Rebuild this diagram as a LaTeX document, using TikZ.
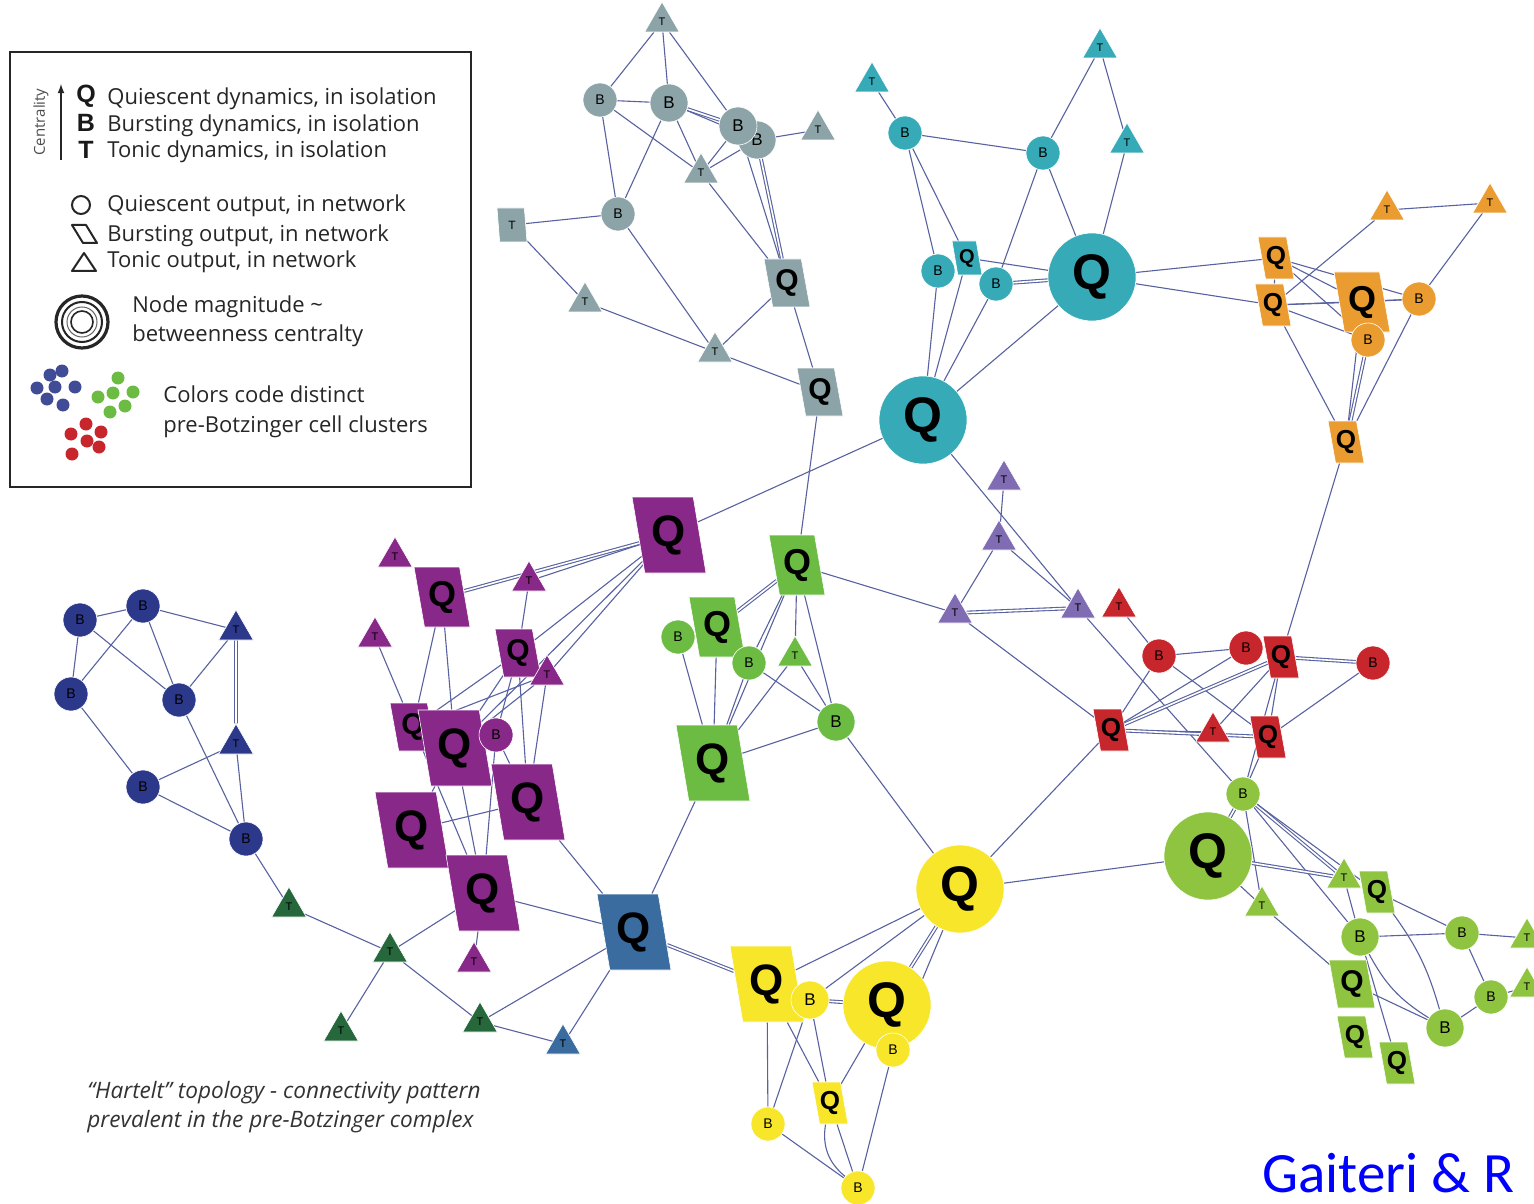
\documentclass[tikz,border=0pt]{standalone}
\usepackage{fontspec}
\setmainfont{Open Sans}
\newfontfamily\letterfont{Liberation Sans}
\newfontfamily\credfont{Carlito}
\usetikzlibrary
  {
    shapes.geometric, % triangles and slanted boxes
    backgrounds,      % connectors behind the nodes
    arrows,           % legend arrow
  }
\newcommand\fsz[1]{\fontsize{#1}{#1}\selectfont}

\definecolor{gtcol}{RGB}{140,163,168}
\definecolor{tlcol}{RGB}{55,170,184}
\definecolor{orcol}{RGB}{234,156,48}
\definecolor{pucol}{RGB}{136,40,136}
\definecolor{grcol}{RGB}{108,188,68}
\definecolor{lvcol}{RGB}{128,108,178}
\definecolor{rdcol}{RGB}{198,38,44}
\definecolor{ylcol}{RGB}{248,230,42}
\definecolor{lmcol}{RGB}{142,196,64}
\definecolor{nvcol}{RGB}{44,56,138}
\definecolor{dgcol}{RGB}{38,104,60}
\definecolor{sbcol}{RGB}{58,108,160}
\definecolor{edgecol}{RGB}{88,98,160}
\definecolor{credblue}{RGB}{0,0,255}

\tikzset{
  net/.style={inner sep=0pt, draw=white, line width=0.3pt, text=black},
  cB/.style={net, circle, minimum size=17pt, font=\letterfont\fsz{7}},
  cBB/.style={net, circle, minimum size=19pt, font=\letterfont\fsz{8.5}},
  cQ/.style={net, circle, minimum size=44pt, font=\letterfont\bfseries\fsz{25}},
  tri/.style={net, regular polygon, regular polygon sides=3, minimum size=20pt, font=\letterfont\fsz{5.5}},
  para/.style={net, trapezium, trapezium left angle=108, trapezium right angle=72, trapezium stretches body},
  pL/.style={para, minimum width=37pt, minimum height=38pt, font=\letterfont\bfseries\fsz{22}},
  pM/.style={para, minimum width=28pt, minimum height=30pt, font=\letterfont\bfseries\fsz{18}},
  pSM/.style={para, minimum width=23pt, minimum height=24pt, font=\letterfont\bfseries\fsz{15}},
  pS/.style={para, minimum width=18pt, minimum height=21pt, font=\letterfont\bfseries\fsz{13}},
  pXS/.style={para, minimum width=15pt, minimum height=17pt, font=\letterfont\bfseries\fsz{10}},
  conn/.style={draw=edgecol, line width=0.55pt},
  multi/.style={double=white, double distance=0.8pt},
  fGt/.style={fill=gtcol}, fTl/.style={fill=tlcol}, fOr/.style={fill=orcol},
  fPu/.style={fill=pucol}, fGr/.style={fill=grcol}, fLv/.style={fill=lvcol},
  fRd/.style={fill=rdcol}, fYl/.style={fill=ylcol}, fLm/.style={fill=lmcol},
  fNv/.style={fill=nvcol}, fDg/.style={fill=dgcol}, fSb/.style={fill=sbcol},
  legtxt/.style={font=\fsz{11}, text=black!85, anchor=base west, inner sep=0pt},
  legkey/.style={font=\letterfont\bfseries\fsz{12.5}, text=black!90, inner sep=0pt},
  captxt/.style={font=\itshape\fsz{11.3}, text=black!80, anchor=base west, inner sep=0pt},
}

\begin{document}
\begin{tikzpicture}[x=0.5pt, y=-0.5pt]
  \useasboundingbox (0,0) rectangle (1534,1203);

  % legend box
  \draw[line width=1pt, black!85] (10,52) rectangle (471,487);
  \draw[-latex, line width=0.6pt, black!85] (61,160) -- (61,84);
  \node[rotate=90, font=\fsz{7.5}, text=black!70] (centr) at (41,122) {Centrality};
  \node[legkey] (keyQ) at (86,96) {Q};
  \node[legkey] (keyB) at (86,123) {B};
  \node[legkey] (keyT) at (86,150) {T};
  \node[legtxt] (legQ) at (107,105) {Quiescent dynamics, in isolation};
  \node[legtxt] (legB) at (107,132) {Bursting dynamics, in isolation};
  \node[legtxt] (legT) at (107,158) {Tonic dynamics, in isolation};
  \draw[line width=1pt, black!85] (81,205) circle (9);
  \draw[line width=1pt, black!85, line join=round] (72,225) -- (86,225) -- (97,243) -- (83,243) -- cycle;
  \draw[line width=1pt, black!85, line join=round] (72,271) -- (96,271) -- (84,253) -- cycle;
  \node[legtxt] (legO) at (107,212) {Quiescent output, in network};
  \node[legtxt] (legP) at (107,242) {Bursting output, in network};
  \node[legtxt] (legA) at (107,268) {Tonic output, in network};
  \draw[line width=1.6pt, black!85] (82,322) circle (26);
  \draw[line width=1pt, black!85] (82,322) circle (20);
  \draw[line width=0.5pt, black!60] (82,322) circle (15);
  \draw[line width=0.8pt, black!85] (82,322) circle (11);
  \node[legtxt] (legM1) at (132,313) {Node magnitude \textasciitilde};
  \node[legtxt] (legM2) at (132,342) {betweenness centralty};
  \foreach \p in {(50,375),(62,371),(37,388),(55,387),(75,387),(47,399),(63,405)}
    \fill[nvcol!90] \p circle (6.5);
  \foreach \p in {(118,378),(98,397),(113,393),(133,392),(110,412),(125,406)}
    \fill[grcol] \p circle (6.5);
  \foreach \p in {(86,424),(101,432),(71,434),(87,441),(72,454),(99,447)}
    \fill[rdcol] \p circle (6.5);
  \node[legtxt] (legC1) at (163,402) {Colors code distinct};
  \node[legtxt] (legC2) at (163,432) {pre-Botzinger cell clusters};

  % grey cluster
  \node[tri, fGt] (gtT1) at (662,22) {T};
  \node[cB, fGt] (gtB1) at (600,100) {B};
  \node[cBB, fGt] (gtB2) at (669,103) {B};
  \node[cBB, fGt] (gtB4) at (757,140) {B};
  \node[cBB, fGt] (gtB3) at (738,126) {B};
  \node[tri, fGt] (gtT2) at (818,130) {T};
  \node[tri, fGt] (gtT3) at (701,173) {T};
  \node[cB, fGt] (gtB5) at (618,214) {B};
  \node[pXS, fGt, font=\letterfont\fsz{6}] (gtT4) at (512,225) {T};
  \node[tri, fGt] (gtT5) at (585,302) {T};
  \node[tri, fGt] (gtT6) at (715,352) {T};
  \node[pSM, fGt] (gtQ1) at (787,283) {Q};
  \node[pSM, fGt] (gtQ2) at (820,392) {Q};

  % teal cluster
  \node[tri, fTl] (tlT1) at (872,82) {T};
  \node[tri, fTl] (tlT2) at (1100,48) {T};
  \node[tri, fTl] (tlT3) at (1127,143) {T};
  \node[cB, fTl] (tlB1) at (905,133) {B};
  \node[cB, fTl] (tlB2) at (1043,153) {B};
  \node[cB, fTl] (tlB3) at (938,271) {B};
  \node[pXS, fTl] (tlQs) at (967,258) {Q};
  \node[cB, fTl] (tlB4) at (996,284) {B};
  \node[cQ, fTl] (tlQ1) at (1092,277) {Q};
  \node[cQ, fTl] (tlQ2) at (923,420) {Q};

  % orange cluster
  \node[tri, fOr] (orT1) at (1387,210) {T};
  \node[tri, fOr] (orT2) at (1490,203) {T};
  \node[pS, fOr] (orQ1) at (1276,258) {Q};
  \node[pS, fOr] (orQ2) at (1273,305) {Q};
  \node[pM, fOr] (orQ3) at (1362,302) {Q};
  \node[cB, fOr] (orB1) at (1419,299) {B};
  \node[cB, fOr] (orB2) at (1368,340) {B};
  \node[pS, fOr] (orQ4) at (1346,442) {Q};

  % purple cluster
  \node[tri, fPu] (puT1) at (395,557) {T};
  \node[pM, fPu] (puQ1) at (442,597) {Q};
  \node[tri, fPu] (puT2) at (529,581) {T};
  \node[tri, fPu] (puT3) at (375,637) {T};
  \node[pSM, fPu] (puQ2) at (518,653) {Q};
  \node[tri, fPu] (puT4) at (547,675) {T};
  \node[pSM, fPu] (puQ3) at (413,727) {Q};
  \node[pL, fPu] (puQ4) at (455,748) {Q};
  \node[cB, fPu] (puB1) at (496,735) {B};
  \node[pL, fPu] (puQ5) at (528,802) {Q};
  \node[pL, fPu] (puQ6) at (412,830) {Q};
  \node[pL, fPu] (puQ7) at (483,893) {Q};
  \node[tri, fPu] (puT5) at (474,962) {T};
  \node[pL, fPu] (puQ8) at (669,535) {Q};

  % green cluster
  \node[pM, fGr] (grQ1) at (797,565) {Q};
  \node[cB, fGr] (grB1) at (678,637) {B};
  \node[pM, fGr] (grQ2) at (717,627) {Q};
  \node[cB, fGr] (grB2) at (749,663) {B};
  \node[tri, fGr] (grT1) at (795,656) {T};
  \node[cBB, fGr] (grB3) at (836,722) {B};
  \node[pL, fGr] (grQ3) at (713,763) {Q};

  % lavender cluster
  \node[tri, fLv] (lvT1) at (1004,480) {T};
  \node[tri, fLv] (lvT2) at (999,540) {T};
  \node[tri, fLv] (lvT3) at (955,613) {T};
  \node[tri, fLv] (lvT4) at (1078,608) {T};

  % red cluster
  \node[tri, fRd] (rdT1) at (1119,607) {T};
  \node[cB, fRd] (rdB1) at (1159,656) {B};
  \node[cB, fRd] (rdB2) at (1246,648) {B};
  \node[pS, fRd] (rdQ1) at (1281,657) {Q};
  \node[cB, fRd] (rdB3) at (1373,663) {B};
  \node[pS, fRd] (rdQ2) at (1111,730) {Q};
  \node[tri, fRd] (rdT2) at (1213,732) {T};
  \node[pS, fRd] (rdQ3) at (1268,737) {Q};

  % navy cluster
  \node[cB, fNv] (nvB1) at (80,620) {B};
  \node[cB, fNv] (nvB2) at (143,606) {B};
  \node[tri, fNv] (nvT1) at (236,630) {T};
  \node[cB, fNv] (nvB3) at (71,694) {B};
  \node[cB, fNv] (nvB4) at (179,700) {B};
  \node[tri, fNv] (nvT2) at (236,744) {T};
  \node[cB, fNv] (nvB5) at (143,787) {B};
  \node[cB, fNv] (nvB6) at (246,839) {B};

  % dark green and steel blue
  \node[tri, fDg] (dgT1) at (289,907) {T};
  \node[tri, fDg] (dgT2) at (390,952) {T};
  \node[tri, fDg] (dgT3) at (341,1031) {T};
  \node[tri, fDg] (dgT4) at (480,1022) {T};
  \node[pL, fSb] (sbQ) at (634,932) {Q};
  \node[tri, fSb] (sbT) at (563,1044) {T};

  % yellow cluster
  \node[cQ, fYl] (ylQ1) at (960,889) {Q};
  \node[pL, fYl] (ylQ2) at (767,984) {Q};
  \node[cQ, fYl] (ylQ3) at (887,1005) {Q};
  \node[cBB, fYl] (ylB1) at (810,1000) {B};
  \node[cB, fYl] (ylB2) at (893,1050) {B};
  \node[pS, fYl] (ylQ4) at (830,1103) {Q};
  \node[cB, fYl] (ylB3) at (768,1124) {B};
  \node[cB, fYl] (ylB4) at (858,1188) {B};

  % lime cluster
  \node[cB, fLm] (lmB1) at (1243,794) {B};
  \node[cQ, fLm] (lmQ) at (1208,856) {Q};
  \node[tri, fLm] (lmT1) at (1262,906) {T};
  \node[tri, fLm] (lmT2) at (1344,878) {T};
  \node[pS, fLm] (lmQ1) at (1377,892) {Q};
  \node[cBB, fLm] (lmB2) at (1360,937) {B};
  \node[cB, fLm] (lmB3) at (1462,933) {B};
  \node[tri, fLm] (lmT3) at (1527,938) {T};
  \node[pSM, fLm] (lmQ2) at (1352,984) {Q};
  \node[cB, fLm] (lmB4) at (1491,997) {B};
  \node[tri, fLm] (lmT4) at (1527,987) {T};
  \node[cBB, fLm] (lmB5) at (1445,1028) {B};
  \node[pS, fLm] (lmQ3) at (1355,1037) {Q};
  \node[pS, fLm] (lmQ4) at (1397,1063) {Q};

  % texts
  \node[captxt] (cap1) at (87,1098) {“Hartelt” topology - connectivity pattern};
  \node[captxt] (cap2) at (87,1127) {prevalent in the pre-Botzinger complex};
  \node[anchor=base west, inner sep=0pt, font=\credfont\fsz{28.5}, text=credblue] (cred) at (1262,1192) {Gaiteri \& R};

  \begin{scope}[on background layer]
    \fill[white] (0,0) rectangle (1534,1203);
    % grey
    \path[conn] (gtT1) edge (gtB1) edge (gtB2) edge (gtB3);
    \path[conn] (gtB1) edge (gtB2) edge (gtB5) edge (gtT3);
    \path[conn] (gtB2) edge[multi] (gtB3) edge (gtB4) edge (gtB5) edge (gtT3);
    \path[conn] (gtT3) edge (gtB3) edge (gtB4) edge (gtQ1);
    \path[conn] (gtB4) edge (gtT2) edge[multi] (gtQ1);
    \path[conn] (gtB3) edge (gtQ1);
    \path[conn] (gtB5) edge (gtT4) edge (gtT6);
    \path[conn] (gtT5) edge (gtT4) edge (gtT6);
    \path[conn] (gtT6) edge (gtQ1) edge (gtQ2);
    \path[conn] (gtQ2) edge (gtQ1) edge (grQ1);
    % teal
    \path[conn] (tlB1) edge (tlT1) edge (tlB2) edge (tlB3) edge (tlQs);
    \path[conn] (tlB2) edge (tlT2) edge (tlB4) edge (tlQ1);
    \path[conn] (tlT3) edge (tlT2) edge (tlQ1);
    \path[conn] (tlQ1) edge (tlQs) edge[multi] (tlB4) edge (tlQ2) edge (orQ1) edge (orQ2);
    \path[conn] (tlQ2) edge (tlB3) edge (tlQs) edge (tlB4) edge (puQ8) edge (lvT4);
    % orange
    \path[conn] (orT1) edge (orT2) edge (orQ2);
    \path[conn] (orB1) edge (orT2) edge (orQ1) edge (orQ2) edge (orQ3) edge (orQ4);
    \path[conn] (orQ1) edge (orQ2) edge (orQ3) edge (orB2);
    \path[conn] (orQ2) edge (orQ3) edge (orB2) edge (orQ4);
    \path[conn] (orQ4) edge (orQ3) edge[multi] (orB2) edge (rdQ1);
    % purple
    \path[conn] (puQ8) edge[multi] (puQ1) edge (puT2) edge (puQ2) edge (puT4) edge (puQ4);
    \path[conn] (puQ1) edge (puQ3) edge (puQ4);
    \path[conn] (puQ2) edge (puT2) edge (puQ3) edge (puQ4) edge (puQ5) edge (puB1);
    \path[conn] (puT4) edge (puQ3) edge (puQ4) edge (puQ5);
    \path[conn] (puT3) edge (puQ3);
    \path[conn] (puQ7) edge (puB1) edge (puQ3) edge (puQ4) edge (puT5) edge (dgT2) edge (sbQ);
    \path[conn] (puQ6) edge (puQ4) edge (puQ5);
    \path[conn] (puQ5) edge (puB1) edge (sbQ);
    % green
    \path[conn] (grQ1) edge[multi] (grQ2) edge (grB2) edge (grQ3) edge (grT1) edge (grB3) edge (lvT3);
    \path[conn] (grQ3) edge (grB1) edge (grQ2) edge (grB2) edge (grT1) edge (grB3) edge (sbQ);
    \path[conn] (grB3) edge (grB2) edge (grT1) edge (ylQ1);
    \path[conn] (grB1) edge (grQ2);
    % lavender
    \path[conn] (lvT2) edge (lvT1) edge (lvT3) edge (lvT4);
    \path[conn] (lvT3) edge[multi] (lvT4) edge (rdQ2);
    \path[conn] (lvT4) edge (lmB1);
    % red
    \path[conn] (rdB1) edge (rdT1) edge (rdB2) edge (rdQ2) edge (rdQ3);
    \path[conn] (rdQ2) edge (rdB2) edge[multi] (rdQ1) edge (rdT2) edge[multi] (rdQ3) edge (ylQ1);
    \path[conn] (rdQ1) edge[multi] (rdB3) edge (rdT2) edge (rdQ3) edge (lmB1);
    \path[conn] (rdQ3) edge (rdB3) edge (lmB1);
    % navy
    \path[conn] (nvB1) edge (nvB2) edge (nvB3) edge (nvB4);
    \path[conn] (nvB2) edge (nvB3) edge (nvB4) edge (nvT1);
    \path[conn] (nvT1) edge (nvB4) edge[multi] (nvT2);
    \path[conn] (nvB5) edge (nvB3) edge (nvT2) edge (nvB6);
    \path[conn] (nvB6) edge (nvB4) edge (nvT2) edge (dgT1);
    % dark green, steel blue
    \path[conn] (dgT2) edge (dgT1) edge (dgT3) edge (dgT4);
    \path[conn] (sbQ) edge (dgT4) edge (sbT) edge[multi] (ylQ2);
    \path[conn] (dgT4) edge (sbT);
    % yellow
    \path[conn] (ylQ1) edge (ylQ2) edge (ylB1) edge[multi] (ylQ3) edge (ylB2) edge (lmQ);
    \path[conn] (ylB1) edge[multi] (ylQ3) edge (ylB3) edge (ylQ4);
    \path[conn] (ylQ2) edge (ylB3) edge (ylQ4);
    \path[conn] (ylQ4) edge (ylQ3) edge (ylB4) edge[bend right=30] (ylB4);
    \path[conn] (ylB4) edge (ylB3) edge (ylB2);
    % lime
    \path[conn] (lmB1) edge[multi] (lmQ) edge[multi] (lmT2) edge (lmQ1) edge (lmB2) edge (lmT1);
    \path[conn] (lmQ) edge[multi] (lmT2) edge (lmT1);
    \path[conn] (lmT1) edge (lmQ2);
    \path[conn] (lmB2) edge (lmT2) edge (lmB3) edge[bend right=15] (lmB5) edge (lmQ4);
    \path[conn] (lmQ1) edge (lmB3) edge[bend left=10] (lmB5);
    \path[conn] (lmB5) edge (lmQ2) edge (lmB4);
    \path[conn] (lmB4) edge (lmB3) edge (lmT4);
    \path[conn] (lmB3) edge (lmT3);
  \end{scope}
\end{tikzpicture}
\end{document}
